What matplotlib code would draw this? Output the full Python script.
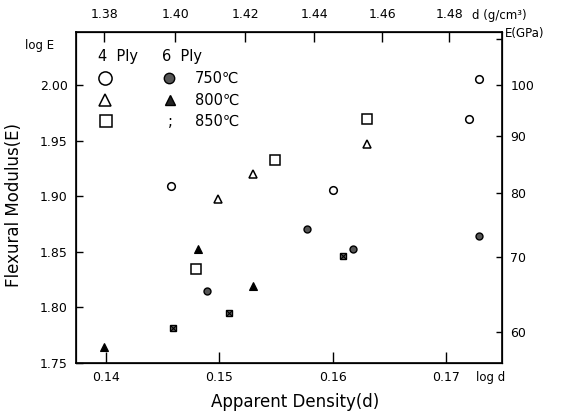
import numpy as np
import matplotlib
matplotlib.use("Agg")
import matplotlib.pyplot as plt

plt.rcParams['font.family'] = ['DejaVu Sans']

# ---- data (log d, log E) ----
ply4_750_x = [0.1458, 0.1600, 0.1720, 0.1729]
ply4_750_y = [1.9095, 1.9056, 1.9693, 2.0057]
ply4_800_x = [0.1499, 0.1530, 0.1630]
ply4_800_y = [1.8976, 1.9200, 1.9469]
ply4_850_x = [0.1480, 0.1549, 0.1630]
ply4_850_y = [1.8346, 1.9328, 1.9693]
ply6_750_x = [0.1489, 0.1577, 0.1618, 0.1729]
ply6_750_y = [1.8149, 1.8707, 1.8525, 1.8640]
ply6_800_x = [0.1399, 0.1481, 0.1530]
ply6_800_y = [1.7647, 1.8526, 1.8194]
ply6_850_x = [0.1459, 0.1509, 0.1609]
ply6_850_y = [1.7811, 1.7948, 1.8462]

x_ticks = [0.14, 0.15, 0.16, 0.17]
x_ticklabels = ['0.14', '0.15', '0.16', '0.17']
y_ticks = [1.75, 1.80, 1.85, 1.90, 1.95, 2.00]
y_ticklabels = ['1.75', '1.80', '1.85', '1.90', '1.95', '2.00']
d_ticks = [1.38, 1.40, 1.42, 1.44, 1.46, 1.48]
d_ticklabels = ['1.38', '1.40', '1.42', '1.44', '1.46', '1.48']
E_ticks = [60, 70, 80, 90, 100, 110]
E_ticklabels = ['60', '70', '80', '90', '100', '']

W, H = 568, 415
fig = plt.figure(figsize=(W / 100, H / 100), dpi=100)
ax = fig.add_axes([76 / W, 1 - 363 / H, (502 - 76) / W, (363 - 32) / H])

xlim = (0.1374, 0.1749)
ylim = (1.750, 2.048)

k = 'black'
ax.plot(ply4_750_x, ply4_750_y, 'o', ms=5.5, mfc='white', mec=k, mew=1.1, ls='none')
ax.plot(ply4_800_x, ply4_800_y, '^', ms=5.5, mfc='white', mec=k, mew=1.1, ls='none')
ax.plot(ply4_850_x, ply4_850_y, 's', ms=6.5, mfc='white', mec=k, mew=1.1, ls='none')
ax.plot(ply6_750_x, ply6_750_y, 'o', ms=5, mfc='#555555', mec=k, mew=1.0, ls='none')
ax.plot(ply6_800_x, ply6_800_y, '^', ms=5.5, mfc=k, mec=k, mew=0.8, ls='none')
ax.plot(ply6_850_x, ply6_850_y, 's', ms=5, mfc='#666666', mec=k, mew=1.0, ls='none')
ax.plot(ply6_850_x, ply6_850_y, 'x', ms=4, mec=k, mew=0.8, ls='none')

ax.set_xlim(*xlim)
ax.set_ylim(*ylim)
ax.set_xticks(x_ticks)
ax.set_xticklabels(x_ticklabels, fontsize=9)
ax.set_yticks(y_ticks)
ax.set_yticklabels(y_ticklabels, fontsize=9)
ax.tick_params(axis='x', direction='in', length=8, width=1.0, pad=6)
ax.tick_params(axis='y', direction='in', length=5, width=1.0, pad=6)
for s in ax.spines.values():
    s.set_linewidth(1.2)

# right axis: E (GPa), log scale equivalent
axr = ax.twinx()
axr.set_ylim(*ylim)
axr.set_yticks(np.log10(E_ticks))
axr.set_yticklabels(E_ticklabels, fontsize=9)
axr.tick_params(axis='y', direction='in', length=4, width=1.0, pad=6)

# top axis: d (g/cm3)
axt = ax.twiny()
axt.set_xlim(*xlim)
axt.set_xticks(np.log10(d_ticks))
axt.set_xticklabels(d_ticklabels, fontsize=9)
axt.tick_params(axis='x', direction='in', length=7, width=1.0, pad=8)

# axis titles
fig.text(295 / W, 1 - 402 / H, 'Apparent Density(d)', fontsize=12, ha='center', va='center')
fig.text(14 / W, 1 - 205 / H, 'Flexural Modulus(E)', fontsize=12, ha='center', va='center',
         rotation=90)
fig.text(40 / W, 1 - 45 / H, 'log E', fontsize=8.5, ha='center', va='center')
fig.text(505 / W, 1 - 33 / H, 'E(GPa)', fontsize=8.5, ha='left', va='center')
fig.text(472 / W, 1 - 15 / H, 'd (g/cm³)', fontsize=8.5, ha='left', va='center')
fig.text(476 / W, 1 - 377 / H, 'log d', fontsize=8.5, ha='left', va='center')

# legend block
def px(x, y):
    return (x - 76) / (502 - 76), (363 - y) / (363 - 32)

fs = 10.5
ax.text(*px(98, 56), '4  Ply', fontsize=fs, ha='left', va='center', transform=ax.transAxes)
ax.text(*px(162, 56), '6  Ply', fontsize=fs, ha='left', va='center', transform=ax.transAxes)
lx1, ly1 = px(105, 78)
ax.plot([lx1], [ly1], 'o', ms=9.5, mfc='white', mec=k, mew=1.1, transform=ax.transAxes, clip_on=False)
lx1, ly1 = px(105, 100)
ax.plot([lx1], [ly1], '^', ms=9, mfc='white', mec=k, mew=1.1, transform=ax.transAxes, clip_on=False)
lx1, ly1 = px(106, 121)
ax.plot([lx1], [ly1], 's', ms=9, mfc='white', mec=k, mew=1.1, transform=ax.transAxes, clip_on=False)
lx2, ly2 = px(169, 78)
ax.plot([lx2], [ly2], 'o', ms=7.5, mfc='#555555', mec=k, mew=1.0, transform=ax.transAxes, clip_on=False)
lx2, ly2 = px(170, 100)
ax.plot([lx2], [ly2], '^', ms=7.5, mfc='#222222', mec=k, mew=1.0, transform=ax.transAxes, clip_on=False)
ax.text(*px(170, 121), ';', fontsize=fs, ha='center', va='center', transform=ax.transAxes)
ax.text(*px(195, 78), '750℃', fontsize=fs, ha='left', va='center', transform=ax.transAxes)
ax.text(*px(195, 100), '800℃', fontsize=fs, ha='left', va='center', transform=ax.transAxes)
ax.text(*px(195, 121), '850℃', fontsize=fs, ha='left', va='center', transform=ax.transAxes)

fig.savefig('out.png', dpi=100)
